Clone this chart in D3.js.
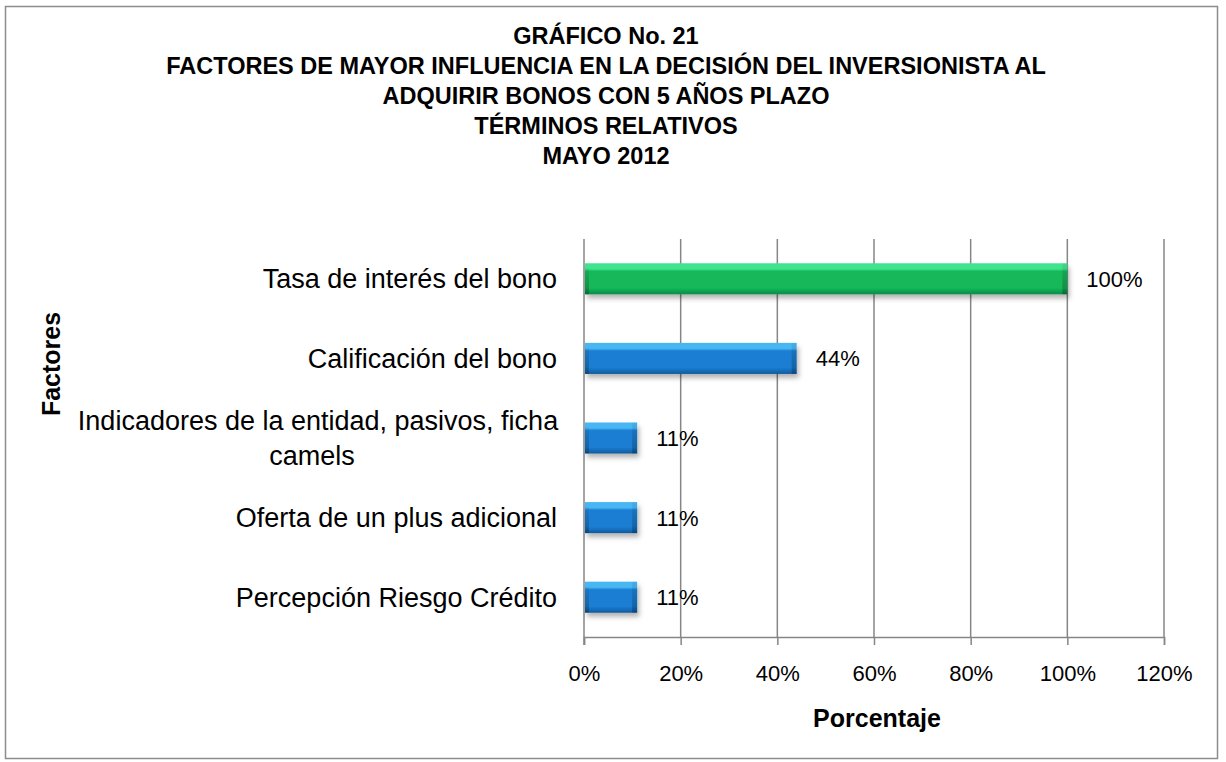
<!DOCTYPE html>
<html>
<head>
<meta charset="utf-8">
<script src="https://cdn.jsdelivr.net/npm/d3@7"></script>
<style>
body { margin: 0; background: #fff; }
text { font-family: "Liberation Sans", Arial, sans-serif; }
</style>
</head>
<body>
<script>
// ---------------- DATA ----------------
var categories = ['Tasa de interés del bono', 'Calificación del bono',
  'Indicadores de la entidad, pasivos, ficha camels', 'Oferta de un plus adicional',
  'Percepción Riesgo Crédito']
var values = [1.00, 0.44, 0.11, 0.11, 0.11]
var xTicks = [0, 0.2, 0.4, 0.6, 0.8, 1.0, 1.2]
var titleLines = ['GRÁFICO No. 21',
  'FACTORES  DE MAYOR INFLUENCIA  EN LA DECISIÓN DEL INVERSIONISTA AL',
  'ADQUIRIR BONOS CON 5 AÑOS PLAZO',
  'TÉRMINOS RELATIVOS',
  'MAYO 2012']

// ---------------- SVG ----------------
var width = 1226, height = 762
var svg = d3.select('body').append('svg').attr('width', width).attr('height', height)

svg.append('rect').attr('x', 5.5).attr('y', 6.5).attr('width', 1212).attr('height', 752)
  .attr('fill', '#fff').attr('stroke', '#8c8c8c').attr('stroke-width', 1.5)

var defs = svg.append('defs')
function bevel(id, light, mid, dark) {
  var g = defs.append('linearGradient').attr('id', id).attr('x1', 0).attr('y1', 0).attr('x2', 0).attr('y2', 1)
  g.append('stop').attr('offset', '0%').attr('stop-color', light)
  g.append('stop').attr('offset', '18%').attr('stop-color', light)
  g.append('stop').attr('offset', '26%').attr('stop-color', mid)
  g.append('stop').attr('offset', '80%').attr('stop-color', mid)
  g.append('stop').attr('offset', '100%').attr('stop-color', dark)
}
bevel('green', '#3fe48e', '#12b85a', '#0c8a43')
bevel('blue', '#48b6f4', '#1a7ed2', '#0f5a9e')
var edge = defs.append('linearGradient').attr('id', 'edge').attr('x1', 0).attr('y1', 0).attr('x2', 0).attr('y2', 1)
edge.append('stop').attr('offset', '0%').attr('stop-color', '#000').attr('stop-opacity', 0.05)
edge.append('stop').attr('offset', '100%').attr('stop-color', '#000').attr('stop-opacity', 0.25)
var f = defs.append('filter').attr('id', 'shadow').attr('x', '-10%').attr('y', '-30%').attr('width', '130%').attr('height', '180%')
f.append('feDropShadow').attr('dx', 2).attr('dy', 4).attr('stdDeviation', 2.5).attr('flood-color', '#000').attr('flood-opacity', 0.3)

// ---------------- SCALES ----------------
var x = d3.scaleLinear().domain([0, 1.2]).range([584, 1164])
var y = d3.scaleBand().domain(categories).range([239, 637]).paddingInner(0.61).paddingOuter(0.305)

// grid
svg.append('g').selectAll('line').data(xTicks.slice(1)).enter().append('line')
  .attr('x1', d => x(d)).attr('x2', d => x(d)).attr('y1', 239).attr('y2', 637)
  .attr('stroke', '#868686').attr('stroke-width', 1.5)

// x axis
var xAxis = svg.append('g').attr('transform', 'translate(0,637)')
  .call(d3.axisBottom(x).tickValues(xTicks).tickFormat(d3.format('.0%')).tickSize(8).tickPadding(20))
xAxis.select('.domain').attr('stroke', '#868686').attr('stroke-width', 1.5)
xAxis.selectAll('.tick line').attr('stroke', '#868686').attr('stroke-width', 1.5)
xAxis.selectAll('text').attr('font-size', 22).attr('fill', '#000')
  .style('font-family', '"Liberation Sans", Arial, sans-serif')

// y axis line
svg.append('line').attr('x1', x(0)).attr('x2', x(0)).attr('y1', 239).attr('y2', 645)
  .attr('stroke', '#868686').attr('stroke-width', 1.5)

// bars
var bars = svg.append('g')
bars.selectAll('rect.bar').data(values).enter().append('rect').attr('class', 'bar')
  .attr('x', x(0) + 1)
  .attr('y', (d, i) => y(categories[i]))
  .attr('width', d => x(d) - x(0) - 1)
  .attr('height', y.bandwidth())
  .attr('fill', (d, i) => i === 0 ? 'url(#green)' : 'url(#blue)')
  .attr('filter', 'url(#shadow)')
// bevelled ends
bars.selectAll('rect.endR').data(values).enter().append('rect').attr('class', 'endR')
  .attr('x', d => x(d) - 5)
  .attr('y', (d, i) => y(categories[i]))
  .attr('width', 5).attr('height', y.bandwidth())
  .attr('fill', 'url(#edge)')
bars.selectAll('rect.endL').data(values).enter().append('rect').attr('class', 'endL')
  .attr('x', x(0) + 1)
  .attr('y', (d, i) => y(categories[i]) + 5)
  .attr('width', 4).attr('height', y.bandwidth() - 5)
  .attr('fill', 'url(#edge)')

// value labels
svg.append('g').selectAll('text').data(values).enter().append('text')
  .attr('x', d => x(d) + 19)
  .attr('y', (d, i) => y(categories[i]) + y.bandwidth() / 2 + 8)
  .attr('font-size', 22)
  .text(d => d3.format('.0%')(d))

// category labels
var catLabels = svg.append('g').selectAll('text').data(categories).enter().append('text')
  .attr('text-anchor', 'end')
  .attr('font-size', 27)
  .attr('x', 557)
  .attr('y', d => y(d) + y.bandwidth() / 2 + 9.5)
catLabels.each(function(d) {
  var t = d3.select(this)
  if (d.indexOf('camels') > 0) {
    t.attr('text-anchor', 'middle').attr('x', 318).attr('y', y(d) + y.bandwidth() / 2 - 8)
    t.append('tspan').text('Indicadores de la entidad, pasivos, ficha')
    t.append('tspan').attr('x', 312).attr('dy', 35).text('camels')
  } else {
    t.text(d)
  }
})

// titles
svg.append('g').selectAll('text').data(titleLines).enter().append('text')
  .attr('x', 606).attr('y', (d, i) => 44 + i * 30)
  .attr('text-anchor', 'middle').attr('font-size', 23.5).attr('font-weight', 'bold')
  .text(d => d)

svg.append('text').attr('x', 877).attr('y', 727).attr('text-anchor', 'middle')
  .attr('font-size', 25).attr('font-weight', 'bold').text('Porcentaje')

svg.append('text').attr('transform', 'translate(60,364) rotate(-90)').attr('text-anchor', 'middle')
  .attr('font-size', 25).attr('font-weight', 'bold').text('Factores')
</script>
</body>
</html>
